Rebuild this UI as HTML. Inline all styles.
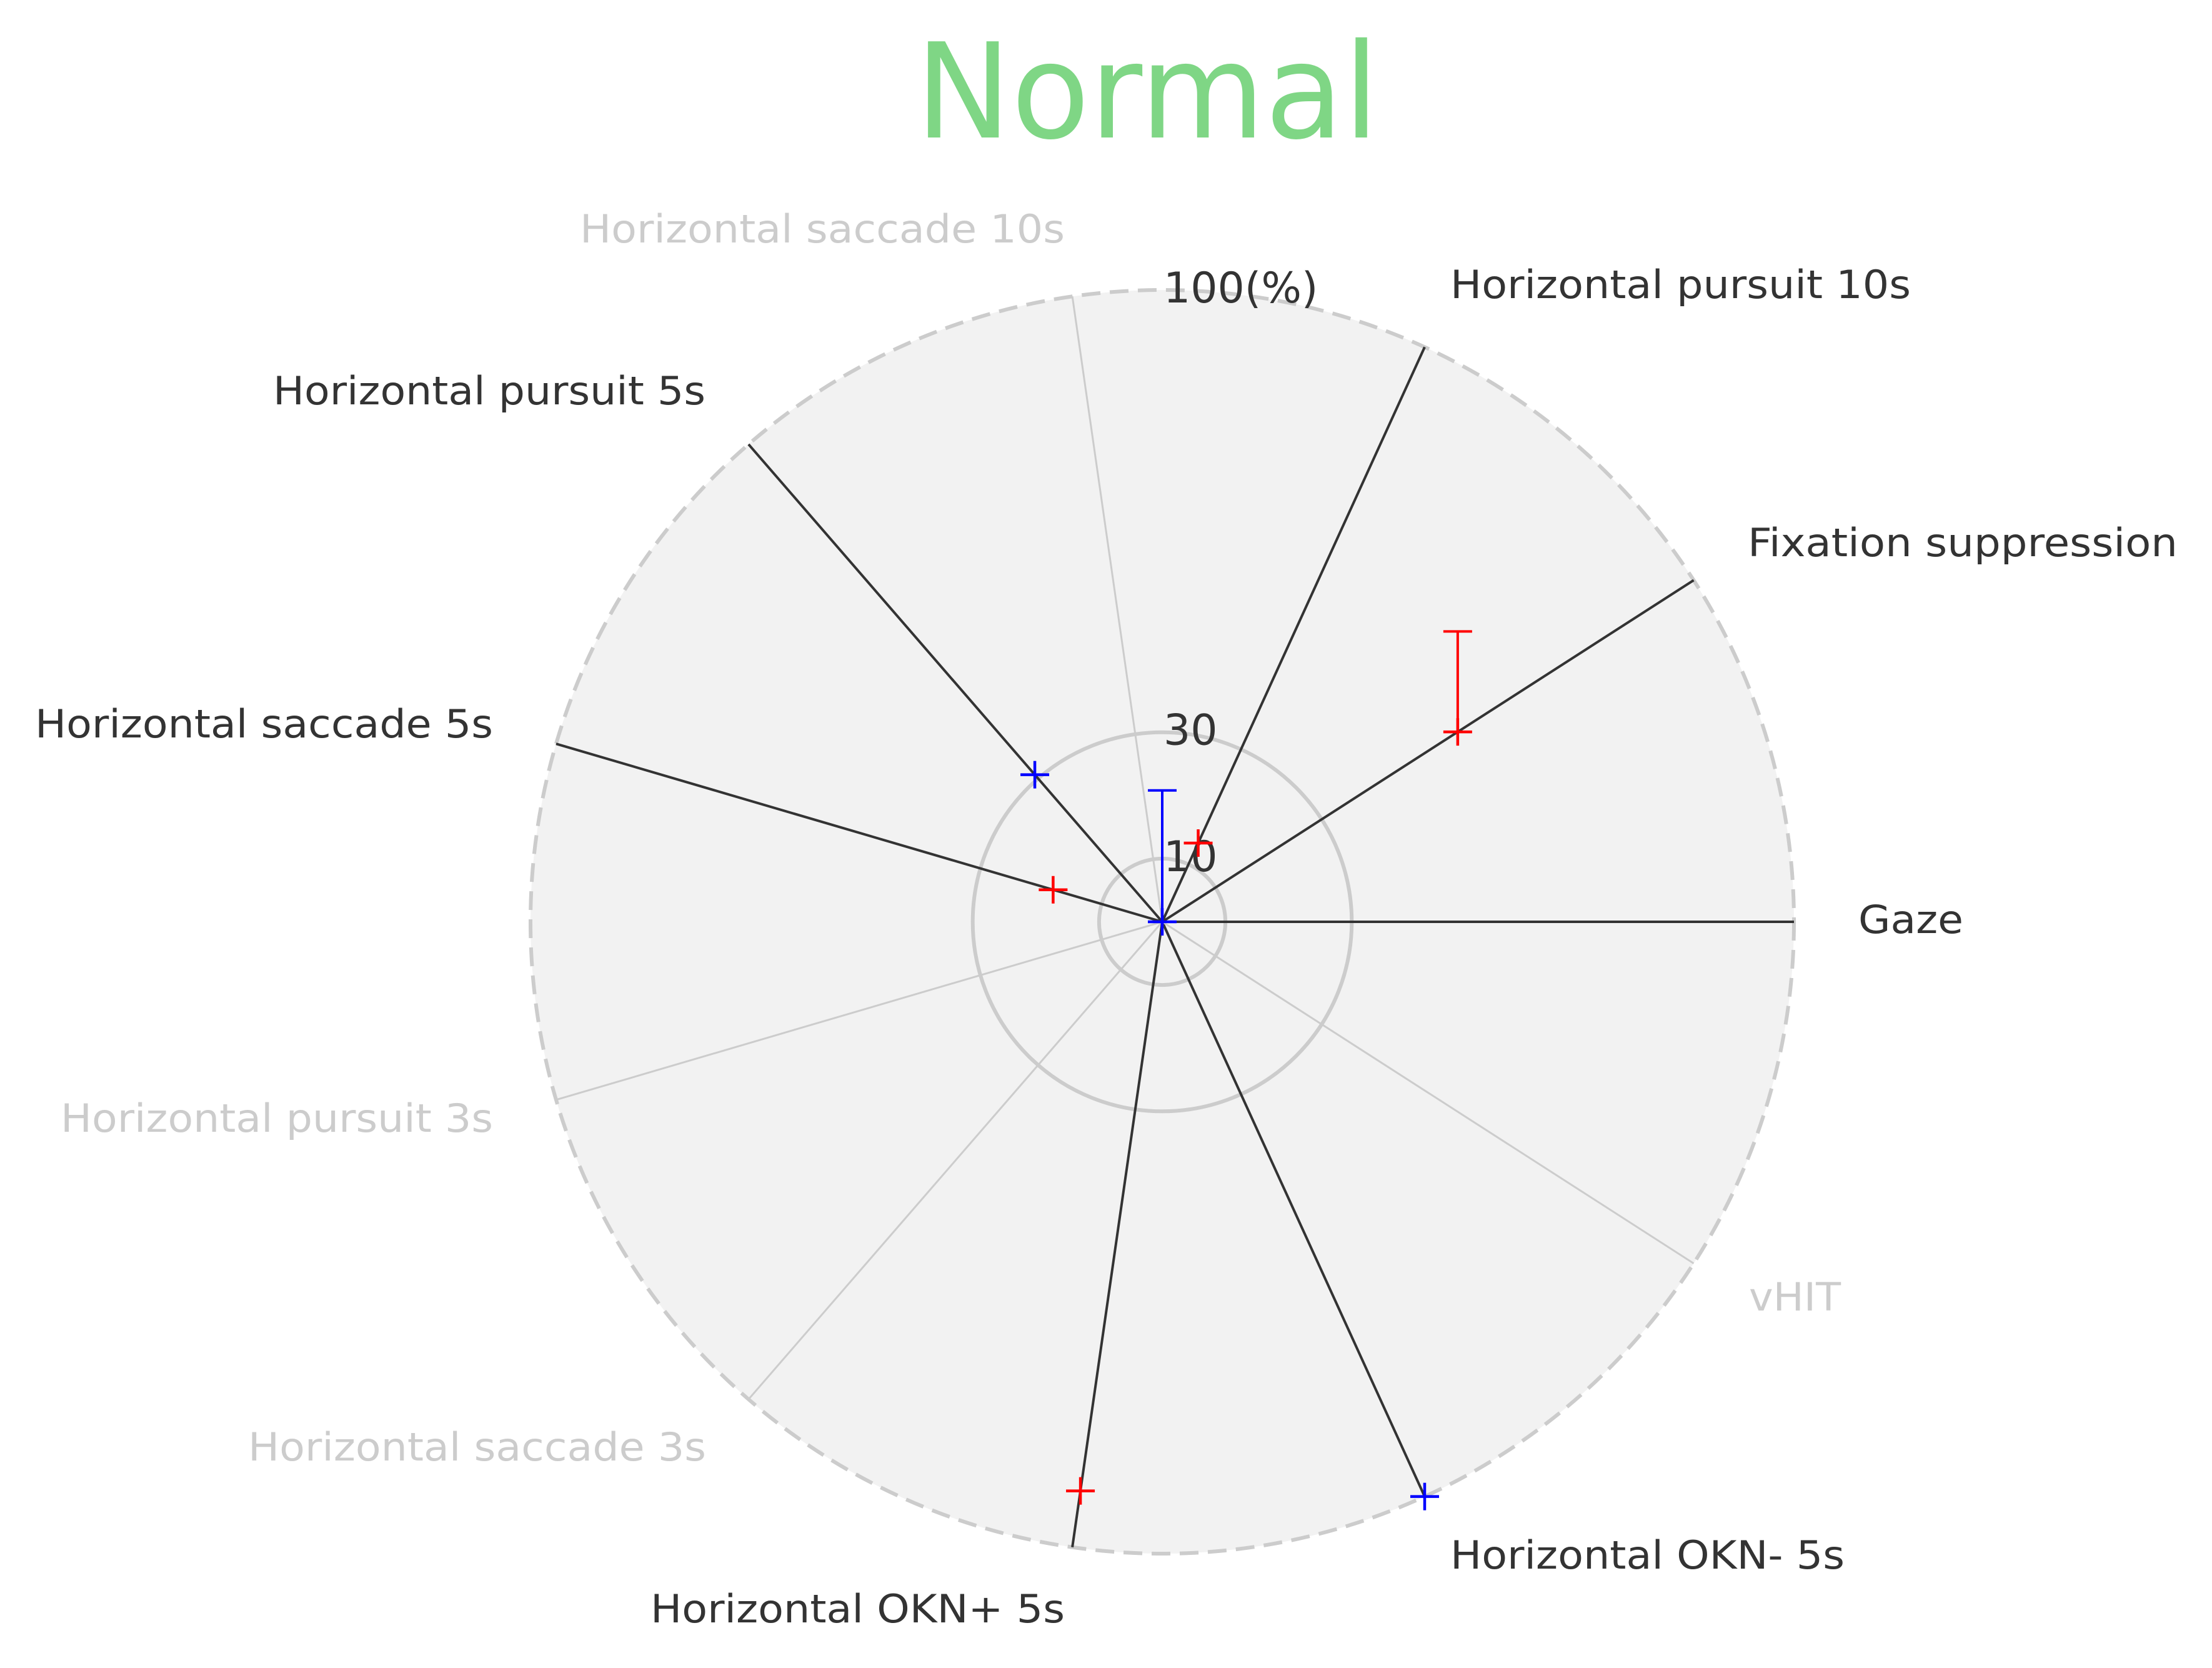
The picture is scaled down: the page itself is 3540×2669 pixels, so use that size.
<!DOCTYPE html>
<html><head><meta charset="utf-8"><style>
html,body{margin:0;padding:0;background:#fff;}
svg{display:block;font-family:"DejaVu Sans","Liberation Sans",sans-serif;}
</style></head><body>
<svg id="chart" width="3540" height="2669" viewBox="0 0 3540 2669" xmlns="http://www.w3.org/2000/svg">
<rect width="3540" height="2669" fill="#fff"/>
<text x="1836" y="220" font-size="211" fill="#7fd685" text-anchor="middle" textLength="742" lengthAdjust="spacingAndGlyphs">Normal</text>
<g id="plot"></g>
</svg>
<script>
const categories = ["Gaze","Fixation suppression","Horizontal pursuit 10s","Horizontal saccade 10s","Horizontal pursuit 5s","Horizontal saccade 5s","Horizontal pursuit 3s","Horizontal saccade 3s","Horizontal OKN+ 5s","Horizontal OKN- 5s","vHIT"];
const activeAxes = [true,true,true,false,true,true,false,false,true,true,false];
const redValues = [null,55.6,13.7,null,null,18,null,null,91,null,null];
const redErrors = [null,15.9,null,null,null,null,null,null,null,null,null];
const blueValues = [0,null,null,null,30.8,null,null,null,null,100,null];
const blueErrors = [20.8,null,null,null,null,null,null,null,null,null,null];
const ringTicks = [10,30];
const tickValues = [10,30,100];
const tickLabels = ["10","30","100(%)"];
const rMax = 100;

const CX=1860, CY=1475, R=1011;
const NS="http://www.w3.org/2000/svg";
const g=document.getElementById('plot');
function rs(v){return v/rMax*R;}
function ang(i){return i*2*Math.PI/categories.length;}
function px(i,v){return CX+rs(v)*Math.cos(ang(i));}
function py(i,v){return CY-rs(v)*Math.sin(ang(i));}
function mk(tag,attrs){const e=document.createElementNS(NS,tag);for(const k in attrs)e.setAttribute(k,attrs[k]);g.appendChild(e);return e;}

let e=mk('circle',{cx:CX,cy:CY,r:R,fill:'#f2f2f2',stroke:'#cccccc','stroke-width':6,'stroke-dasharray':'30 15'});


ringTicks.forEach(t=>{
  const c=mk('circle',{cx:CX,cy:CY,r:rs(t),fill:'none',stroke:'#cccccc','stroke-width':6});
  
  
});
categories.forEach((c,i)=>{
  const l=mk('line',{x1:CX,y1:CY,x2:px(i,rMax),y2:py(i,rMax),stroke:activeAxes[i]?'#333333':'#cccccc','stroke-width':activeAxes[i]?4:3});
  
  
});
tickValues.forEach((v,k)=>{
  const t=mk('text',{x:1862,y:CY-rs(v)+20,'font-size':68,fill:'#333333'});
  t.textContent=tickLabels[k];
  
  
});
const lab=[[2986,1502,168],[2809,899,688],[2333,486,737],[933,397,776],[442,656,692],[61,1189,733],[102,1820,692],[402,2346,733],[1046,2605,663],[2333,2519,631],[2811,2106,147]];
categories.forEach((c,i)=>{
  const dx = lab[i][0]>1800 ? -12 : -5;
  const t=mk('text',{x:lab[i][0]+dx,y:lab[i][1]-9,'font-size':62,fill:activeAxes[i]?'#333333':'#cccccc',textLength:lab[i][2],lengthAdjust:'spacingAndGlyphs'});
  t.textContent=c;
  
  
});
function plus(x,y,col){
  mk('line',{x1:x-23,y1:y,x2:x+23,y2:y,stroke:col,'stroke-width':4.5});
  const v=mk('line',{x1:x,y1:y-22,x2:x,y2:y+22,stroke:col,'stroke-width':4.5});
  
  
}
function series(vals,errs,col,name){
  vals.forEach((v,i)=>{
    if(v===null)return;
    const x=px(i,v), y=py(i,v);
    if(errs[i]!==null){
      const yt=y-rs(errs[i]);
      const eb=mk('line',{x1:x,y1:y,x2:x,y2:yt,stroke:col,'stroke-width':4});
      
      
      mk('line',{x1:x-23,y1:yt,x2:x+23,y2:yt,stroke:col,'stroke-width':4});
    }
    plus(x,y,col);
  });
}
series(redValues,redErrors,'#ff0000','red');
series(blueValues,blueErrors,'#0000ff','blue');
</script>
</body></html>
